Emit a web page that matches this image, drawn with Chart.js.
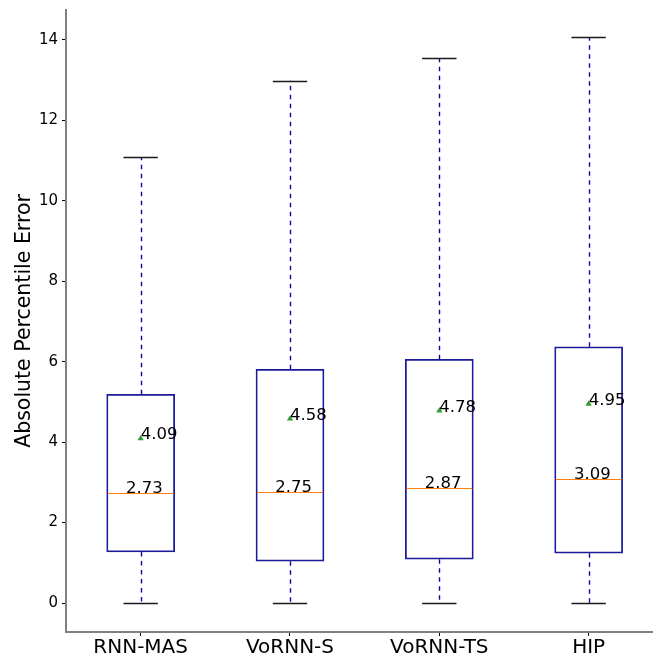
<!DOCTYPE html>
<html>
<head>
<meta charset="utf-8">
<script src="https://cdn.jsdelivr.net/npm/chart.js@4/dist/chart.umd.min.js"></script>
<style>
  html, body { margin: 0; padding: 0; background: #ffffff; overflow: hidden; }
  #wrap { width: 653px; height: 660px; position: relative; overflow: hidden; }
  #chart { display: block; }
</style>
</head>
<body>
<div id="wrap"><canvas id="chart" width="657" height="660"></canvas></div>
<script>
// Summary statistics of the absolute percentile error per model
const categories  = ['RNN-MAS', 'VoRNN-S', 'VoRNN-TS', 'HIP'];
const whiskerLow  = [0, 0, 0, 0];
const q1          = [1.27, 1.04, 1.09, 1.24];
const medians     = [2.73, 2.75, 2.87, 3.09];
const q3          = [5.19, 5.81, 6.06, 6.37];
const whiskerHigh = [11.08, 12.98, 13.54, 14.06];
const means       = [4.09, 4.58, 4.78, 4.95];
const yTicks      = [0, 2, 4, 6, 8, 10, 12, 14];

const FONT = "'DejaVu Sans', sans-serif";
const positions = categories.map((c, i) => i + 1);
const CAP_HALF = 0.115;      // half cap width, in x units
const MEDIAN_SHIFT = 0.025;  // median label offset, in x units

// Whiskers, caps, medians and the value labels
const boxExtras = {
  id: 'boxExtras',
  afterDatasetsDraw(chart) {
    const ctx = chart.ctx;
    const xs = chart.scales.x, ys = chart.scales.y;
    ctx.save();
    positions.forEach((p, i) => {
      const cx = Math.round(xs.getPixelForValue(p)) + 0.5;
      // dashed whiskers
      ctx.strokeStyle = '#0a0aa0';
      ctx.lineWidth = 1.4;
      ctx.setLineDash([4.5, 4.5]);
      ctx.beginPath();
      ctx.moveTo(cx, ys.getPixelForValue(q3[i]));
      ctx.lineTo(cx, ys.getPixelForValue(whiskerHigh[i]));
      ctx.moveTo(cx, ys.getPixelForValue(q1[i]));
      ctx.lineTo(cx, ys.getPixelForValue(whiskerLow[i]));
      ctx.stroke();
      ctx.setLineDash([]);
      // caps
      ctx.strokeStyle = '#1a1a1a';
      ctx.lineWidth = 1.3;
      ctx.beginPath();
      [whiskerHigh[i], whiskerLow[i]].forEach(v => {
        const y = Math.round(ys.getPixelForValue(v)) + 0.5;
        ctx.moveTo(xs.getPixelForValue(p - CAP_HALF), y);
        ctx.lineTo(xs.getPixelForValue(p + CAP_HALF), y);
      });
      ctx.stroke();
      // median line
      const bar = chart.getDatasetMeta(0).data[i];
      const my = Math.round(ys.getPixelForValue(medians[i])) + 0.5;
      ctx.strokeStyle = '#ff7f0e';
      ctx.lineWidth = 1.2;
      ctx.beginPath();
      ctx.moveTo(bar.x - bar.width / 2 + 1, my);
      ctx.lineTo(bar.x + bar.width / 2 - 1, my);
      ctx.stroke();
    });
    // value labels
    ctx.fillStyle = '#000000';
    ctx.font = '16.5px ' + FONT;
    ctx.textBaseline = 'alphabetic';
    positions.forEach((p, i) => {
      ctx.textAlign = 'center';
      ctx.fillText(medians[i].toFixed(2), xs.getPixelForValue(p + MEDIAN_SHIFT), ys.getPixelForValue(medians[i]));
      ctx.textAlign = 'left';
      ctx.fillText(means[i].toFixed(2), xs.getPixelForValue(p), ys.getPixelForValue(means[i]) + 1);
    });
    ctx.restore();
  }
};

new Chart(document.getElementById('chart'), {
  type: 'bar',
  data: {
    datasets: [
      {
        type: 'bar',
        label: 'IQR',
        data: positions.map((p, i) => ({ x: p, y: [q1[i], q3[i]] })),
        backgroundColor: 'rgba(255,255,255,0)',
        borderColor: '#1a1a9a',
        borderWidth: 1.1,
        borderSkipped: false,
        barThickness: 68,
        order: 2
      },
      {
        type: 'scatter',
        label: 'Mean',
        data: positions.map((p, i) => ({ x: p, y: means[i] })),
        pointStyle: 'triangle',
        pointRadius: 3.6,
        backgroundColor: '#2ca02c',
        borderColor: '#2ca02c',
        borderWidth: 0,
        order: 1
      }
    ]
  },
  options: {
    responsive: false,
    animation: false,
    devicePixelRatio: 1,
    layout: { padding: { top: 10, right: 0, bottom: 0, left: 0 } },
    plugins: { legend: { display: false }, tooltip: { enabled: false } },
    scales: {
      x: {
        type: 'linear',
        offset: false,
        min: 0.5,
        max: 4.431,
        afterBuildTicks(scale) { scale.ticks = positions.map(v => ({ value: v })); },
        afterFit(scale) {
          scale.height = 28;
          scale.paddingLeft = 0;
          scale.paddingRight = 0;
        },
        grid: { display: true, offset: false, drawOnChartArea: false, drawTicks: true, tickLength: 4, tickColor: '#000000', tickWidth: 1 },
        border: { display: true, color: '#808080', width: 2 },
        ticks: {
          autoSkip: false,
          maxRotation: 0,
          padding: 0,
          color: '#000000',
          font: { family: FONT, size: 20 },
          callback: (v) => categories[Math.round(v) - 1] ?? ''
        }
      },
      y: {
        type: 'linear',
        min: -0.72,
        max: 14.74,
        afterBuildTicks(scale) { scale.ticks = yTicks.map(v => ({ value: v })); },
        afterFit(scale) {
          scale.width = 66;
          scale.paddingTop = 0;
          scale.paddingBottom = 0;
        },
        grid: { display: true, drawOnChartArea: false, drawTicks: true, tickLength: 4, tickColor: '#000000', tickWidth: 1 },
        border: { display: true, color: '#808080', width: 2 },
        title: {
          display: true,
          text: 'Absolute Percentile Error',
          color: '#000000',
          font: { family: FONT, size: 20.5 },
          padding: { top: 12, bottom: 0 }
        },
        ticks: {
          padding: 4,
          color: '#000000',
          font: { family: FONT, size: 15 },
          callback: (v) => String(v)
        }
      }
    }
  },
  plugins: [boxExtras]
});
</script>
</body>
</html>
